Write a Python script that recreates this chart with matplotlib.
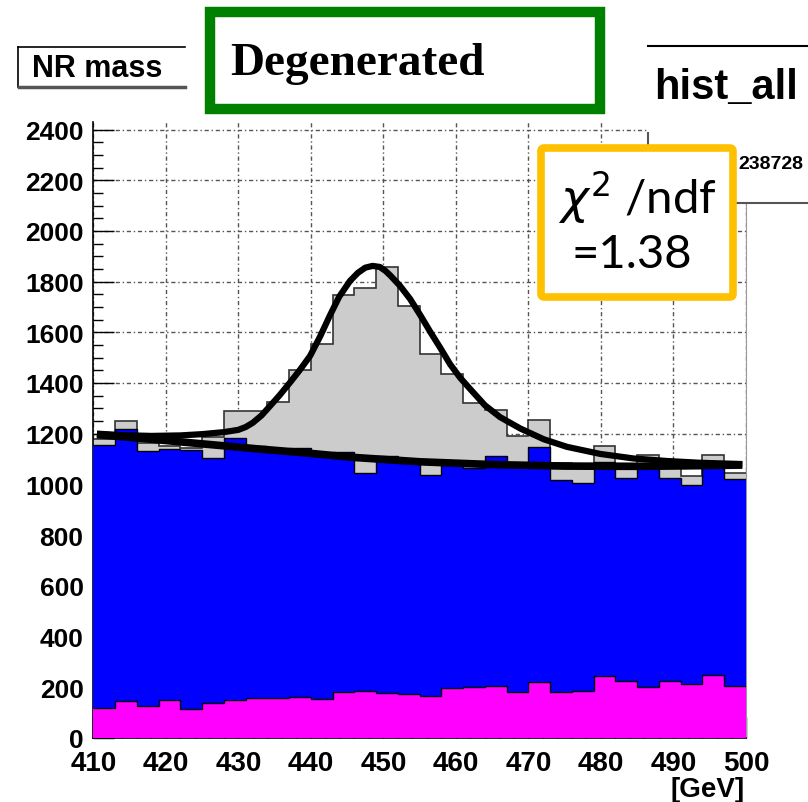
import numpy as np
import matplotlib
matplotlib.use("Agg")
import matplotlib.pyplot as plt
from matplotlib.patches import Rectangle, FancyBboxPatch
from matplotlib.lines import Line2D

# ---- data ----
bin_edges = np.arange(410, 501, 3)  # 30 bins of 3 GeV

counts_all = [1180, 1248, 1165, 1150, 1145, 1185, 1290, 1288, 1326, 1453,
              1552, 1748, 1776, 1859, 1705, 1516, 1434, 1320, 1295, 1190,
              1255, 1085, 1072, 1150, 1080, 1115, 1075, 1031, 1117, 1045]
counts_blue = [1039, 1073, 1006, 991, 1020, 968, 1035, 992, 985, 980,
               966, 950, 861, 934, 930, 875, 887, 866, 908, 901,
               926, 839, 820, 843, 802, 872, 800, 786, 820, 815]
counts_magenta = [116, 145, 127, 149, 115, 137, 148, 158, 155, 162,
                  152, 179, 183, 176, 171, 163, 196, 200, 204, 179,
                  221, 179, 186, 244, 222, 200, 225, 213, 248, 205]

# fit curves (signal+background, background only)
fit_x = [410.5, 414, 418, 422, 425, 428, 430, 431, 432, 433.2, 434.4, 435.7,
         437.1, 438.5, 439.9, 441.3, 442.6, 443.9, 445.4, 446.5, 447.5, 448.5,
         449.5, 450.3, 451, 452.3, 453.7, 455.1, 456.5, 457.9, 459.2, 460.6,
         462, 464, 466.1, 468.9, 472.1, 475.3, 479.9, 484.5, 489.1, 493.7, 499.5]
fit_y = [1200, 1194, 1191, 1193, 1198, 1206, 1215, 1226, 1243, 1272, 1310, 1352,
         1401, 1452, 1507, 1585, 1665, 1740, 1803, 1835, 1855, 1862,
         1858, 1842, 1823, 1783, 1731, 1667, 1600, 1536, 1474, 1420,
         1375, 1312, 1265, 1220, 1178, 1148, 1120, 1102, 1092, 1085, 1080]
bkg_x = [410.5, 414, 418, 423, 428, 433, 438.5, 446, 455, 465, 475, 485, 492, 499.5]
bkg_y = [1196, 1188, 1178, 1165, 1152, 1139, 1126, 1106, 1089, 1078, 1072, 1071, 1073, 1076]

x_ticks = list(range(410, 501, 10))
y_ticks = list(range(0, 2401, 200))

W, H = 808, 803
fig = plt.figure(figsize=(W / 100, H / 100), dpi=100)

def fx(px):
    return px / W

def fy(py):
    return 1 - py / H

ax = fig.add_axes([fx(93.3), fy(738.7), fx(746) - fx(93.3), fy(123) - fy(738.7)])
ax.set_xlim(410, 500)
ax.set_ylim(0, 2430)
ax.set_axisbelow(True)

blue_top = np.array(counts_magenta) + np.array(counts_blue)

ax.stairs(counts_all, bin_edges, fill=True, color="#cccccc", zorder=2)
ax.stairs(counts_all, bin_edges, baseline=None, color="#333333", lw=1.2, zorder=2.1)
ax.stairs(blue_top, bin_edges, fill=True, color="#0000ff", zorder=3)
ax.stairs(blue_top, bin_edges, baseline=None, color="black", lw=1, zorder=3.1)
ax.stairs(counts_magenta, bin_edges, fill=True, color="#ff00ff", zorder=4)
ax.stairs(counts_magenta, bin_edges, baseline=None, color="black", lw=1, zorder=4.1)

ax.plot(bkg_x, bkg_y, color="black", lw=5.5, solid_capstyle="butt", zorder=6)
ax.plot(fit_x, fit_y, color="black", lw=4.5, solid_capstyle="butt",
        solid_joinstyle="round", zorder=6)

ax.set_xticks(x_ticks)
ax.set_yticks(y_ticks)
ax.set_yticks(np.arange(0, 2430, 50), minor=True)
ax.set_xticks(np.arange(410, 501, 2), minor=True)
ax.grid(True, which="major", color="#555555", lw=1, linestyle=(0, (3, 2, 1, 2)))
ax.tick_params(axis="both", which="major", direction="in", length=15, width=1)
ax.tick_params(axis="both", which="minor", direction="in", length=7, width=1)
ax.tick_params(axis="y", labelsize=19, pad=7)
ax.tick_params(axis="x", labelsize=20, pad=9)
for lab in ax.get_xticklabels() + ax.get_yticklabels():
    lab.set_fontweight("bold")
    lab.set_fontfamily("Liberation Sans")

ax.spines["top"].set_visible(False)
ax.spines["right"].set_color("#999999")
for s in ["left", "bottom"]:
    ax.spines[s].set_linewidth(1.2)

fig.text(fx(745), fy(790), "[GeV]", ha="right", va="center", fontsize=20,
         fontweight="bold", family="Liberation Sans")

# title pave "NR mass" (right side hidden behind the green box)
for xs, ys, c, w in [([18, 185], [48, 48], "black", 1.2),
                     ([18, 18], [48, 88], "black", 1.2),
                     ([19, 185], [88, 88], "#555555", 2.5)]:
    fig.add_artist(Line2D([fx(x) for x in xs], [fy(y) for y in ys], color=c,
                          lw=w, transform=fig.transFigure, zorder=10))
fig.text(fx(32), fy(69), "NR mass", ha="left", va="center", fontsize=22,
         fontweight="bold", family="Liberation Sans", zorder=11)

# stats box "hist_all"
fig.patches.append(Rectangle((fx(648), fy(204)), fx(808) - fx(648), fy(47) - fy(204),
                             transform=fig.transFigure, facecolor="white",
                             edgecolor="none", zorder=10))
fig.add_artist(Line2D([fx(648), fx(808)], [fy(47), fy(47)], color="black",
                      lw=1.5, transform=fig.transFigure, zorder=11))
fig.add_artist(Line2D([fx(737), fx(808)], [fy(204), fy(204)], color="#555555",
                      lw=1.5, transform=fig.transFigure, zorder=11))
fig.add_artist(Line2D([fx(648), fx(648)], [fy(134), fy(160)], color="#555555",
                      lw=1.5, transform=fig.transFigure, zorder=11))
fig.text(fx(654), fy(88), "hist_all", ha="left", va="center", fontsize=30,
         fontweight="bold", family="Liberation Sans", zorder=11)
fig.text(fx(803), fy(165), "238728", ha="right", va="center", fontsize=14,
         fontweight="bold", family="Liberation Sans", zorder=11)

# green "Degenerated" box
fig.patches.append(Rectangle((fx(210), fy(110)), fx(600) - fx(210), fy(13) - fy(110),
                             transform=fig.transFigure, facecolor="white",
                             edgecolor="#008000", lw=7.5, zorder=12))
fig.text(fx(230), fy(64), "Degenerated", ha="left", va="center", fontsize=34,
         fontweight="bold", family="Liberation Serif", zorder=13)

# yellow chi2 box
fig.patches.append(FancyBboxPatch((fx(541), fy(298)), fx(733) - fx(541), fy(149) - fy(298),
                                  boxstyle="round,pad=0,rounding_size=0.004",
                                  transform=fig.transFigure, facecolor="white",
                                  edgecolor="#ffc000", lw=5.5, zorder=12))
fig.text(fx(637), fy(197), r"$\chi^{2}$ /ndf", ha="center", va="center", fontsize=34,
         family="Lato", zorder=13)
fig.text(fx(632), fy(255), "=1.38", ha="center", va="center", fontsize=34,
         family="Lato", zorder=13)

fig.savefig("out.png", dpi=100)
